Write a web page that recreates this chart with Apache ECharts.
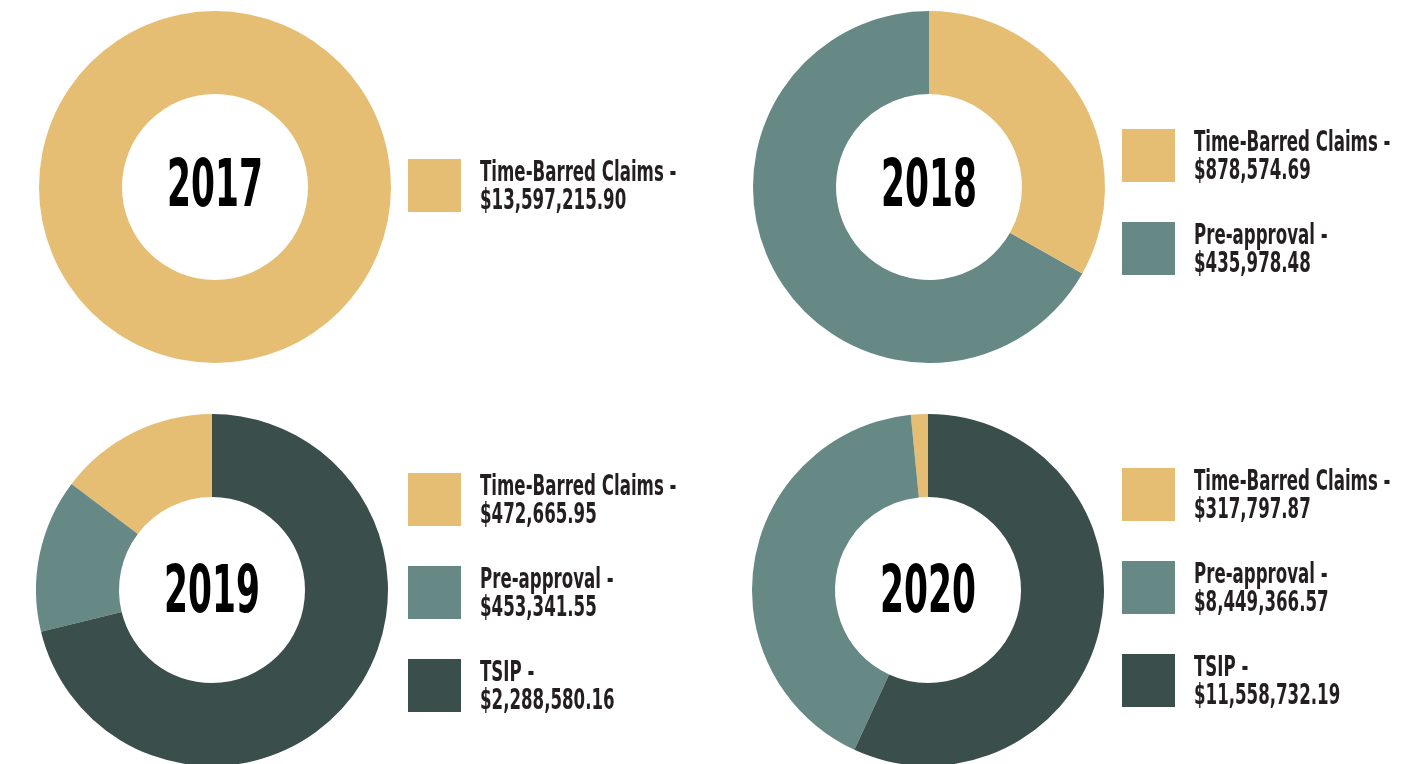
<!DOCTYPE html>
<html><head><meta charset="utf-8">
<script src="https://cdn.jsdelivr.net/npm/echarts@6/dist/echarts.min.js"></script>
<style>html,body{margin:0;padding:0;background:#fff}#c{width:1428px;height:764px}</style>
</head><body><div id="c"></div>
<script>
// ---- data ----
const years = ['2017', '2018', '2019', '2020'];
// slice values as drawn (counter-clockwise from 12 o'clock)
const slices2017 = [13597215.90];
const slices2018 = [878574.69, 435978.48];
const slices2019 = [472665.95, 453341.55, 2288580.16];
const slices2020 = [317797.87, 8449366.57, 11558732.19];
// slice colours as drawn
const sliceColors2017 = ['gold'];
const sliceColors2018 = ['teal', 'gold'];
const sliceColors2019 = ['gold', 'teal', 'dark'];
const sliceColors2020 = ['gold', 'teal', 'dark'];
// legend text
const legendNames2017 = ['Time-Barred Claims -'];
const legendValues2017 = ['$13,597,215.90'];
const legendNames2018 = ['Time-Barred Claims -', 'Pre-approval -'];
const legendValues2018 = ['$878,574.69', '$435,978.48'];
const legendNames2019 = ['Time-Barred Claims -', 'Pre-approval -', 'TSIP -'];
const legendValues2019 = ['$472,665.95', '$453,341.55', '$2,288,580.16'];
const legendNames2020 = ['Time-Barred Claims -', 'Pre-approval -', 'TSIP -'];
const legendValues2020 = ['$317,797.87', '$8,449,366.57', '$11,558,732.19'];
const legendColors = ['gold', 'teal', 'dark'];

// ---- style ----
const palette = {gold: '#E5BE74', teal: '#668985', dark: '#3A4F4B'};
const FONT = '"Liberation Sans Narrow","DejaVu Sans Condensed","Roboto",sans-serif';
const panels = [
  {slices: slices2017, cols: sliceColors2017, names: legendNames2017, vals: legendValues2017, cx: 215, cy: 187, ty: 189, lx: 408, ly: 159},
  {slices: slices2018, cols: sliceColors2018, names: legendNames2018, vals: legendValues2018, cx: 929, cy: 187, ty: 189, lx: 1122, ly: 129},
  {slices: slices2019, cols: sliceColors2019, names: legendNames2019, vals: legendValues2019, cx: 212, cy: 590, ty: 595, lx: 408, ly: 473},
  {slices: slices2020, cols: sliceColors2020, names: legendNames2020, vals: legendValues2020, cx: 928, cy: 590, ty: 595, lx: 1122, ly: 468}
];
const SQ = 53, STEP = 93;

const series = [];
const graphic = [];
panels.forEach((p, i) => {
  series.push({
    type: 'pie',
    center: [p.cx, p.cy],
    radius: [93, 176],
    clockwise: false,
    startAngle: 90,
    silent: true,
    label: {show: false},
    labelLine: {show: false},
    itemStyle: {borderWidth: 0},
    data: p.slices.map((v, k) => ({value: v, name: years[i] + '-' + k, itemStyle: {color: palette[p.cols[k]]}}))
  });
  graphic.push({
    type: 'text', x: p.cx, y: p.ty, scaleX: 0.58, z: 10,
    style: {text: years[i], x: 0, y: 0, align: 'center', verticalAlign: 'middle',
      font: 'bold 66px ' + FONT, fill: '#000'}
  });
  p.names.forEach((n, k) => {
    const y = p.ly + k * STEP;
    graphic.push({type: 'rect', shape: {x: p.lx, y: y, width: SQ, height: SQ}, style: {fill: palette[legendColors[k]]}});
    graphic.push({type: 'text', x: p.lx + 72, y: y + 1, scaleX: 0.66,
      style: {text: n + '\n' + p.vals[k], fill: '#231F20', font: 'bold 28px ' + FONT, lineHeight: 28}});
  });
});

const chart = echarts.init(document.getElementById('c'));
chart.setOption({animation: false, series: series, graphic: graphic});
</script></body></html>
